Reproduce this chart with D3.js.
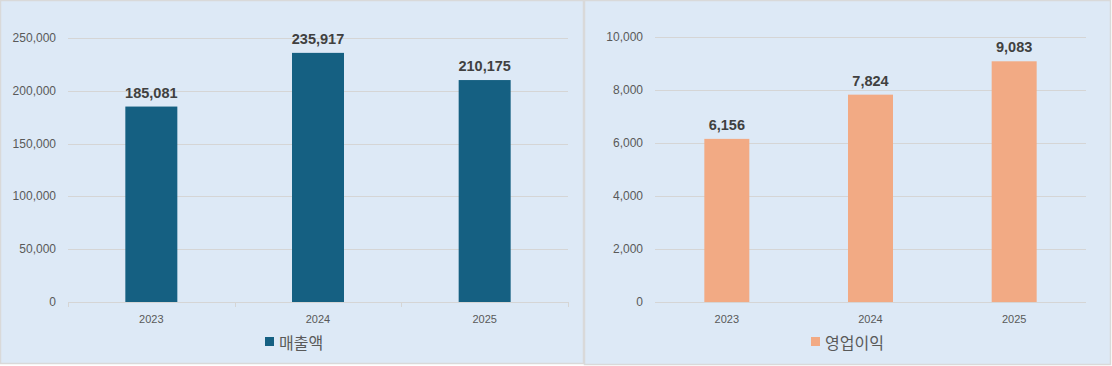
<!DOCTYPE html>
<html><head><meta charset="utf-8">
<script src="https://cdn.jsdelivr.net/npm/d3@7"></script>
<style>body{margin:0;background:#fff;}svg{display:block;}</style>
</head><body>
<svg id="c" width="1112" height="366"></svg>
<script>
const years = ["2023","2024","2025"];
const salesValues = [185081, 235917, 210175];
const profitValues = [6156, 7824, 9083];
const salesTicks = [0, 50000, 100000, 150000, 200000, 250000];
const profitTicks = [0, 2000, 4000, 6000, 8000, 10000];
const salesLegend = "매출액";
const profitLegend = "영업이익";

const svg = d3.select("#c");
const fmt = d3.format(",");

function panel(o){
  const g = svg.append("g");
  g.append("rect").attr("x",o.px+0.5).attr("y",0.5).attr("width",o.pw).attr("height",o.ph)
    .attr("fill","#dde9f6").attr("stroke","#d9d9d9").attr("stroke-width",1.5);
  const x = d3.scaleBand().domain(years).range([o.x0,o.x1]).paddingInner(0).paddingOuter(0);
  const y = d3.scaleLinear().domain([0,o.max]).range([o.yb,o.yt]);
  // gridlines
  g.selectAll(".grid").data(o.ticks).join("line")
    .attr("x1",o.x0).attr("x2",o.x1).attr("y1",d=>Math.round(y(d))+0.5).attr("y2",d=>Math.round(y(d))+0.5)
    .attr("stroke","#d5d5d5").attr("stroke-width",1);
  // y labels
  g.selectAll(".yl").data(o.ticks).join("text")
    .attr("x",o.x0-12).attr("y",d=>y(d)+4).attr("text-anchor","end")
    .attr("font-family","Liberation Sans, Arial, sans-serif").attr("font-size",12).attr("fill","#595959")
    .text(d=>fmt(d));
  // category ticks
  if(o.catTicks){
    const edges = years.map(d=>x(d)).concat([o.x1]);
    g.selectAll(".ct").data(edges).join("line")
      .attr("x1",d=>Math.round(d)+0.5).attr("x2",d=>Math.round(d)+0.5).attr("y1",o.yb).attr("y2",o.yb+5)
      .attr("stroke","#d5d5d5");
  }
  const bw = o.bw;
  g.selectAll(".bar").data(o.vals).join("rect")
    .attr("x",(d,i)=>x(years[i])+x.bandwidth()/2-bw/2).attr("width",bw)
    .attr("y",d=>y(d)).attr("height",d=>o.yb-y(d)).attr("fill",o.color);
  g.selectAll(".dl").data(o.vals).join("text")
    .attr("x",(d,i)=>x(years[i])+x.bandwidth()/2).attr("y",d=>y(d)-9).attr("text-anchor","middle")
    .attr("font-family","Liberation Sans, Arial, sans-serif").attr("font-weight","bold").attr("font-size",14.5)
    .attr("fill","#404040").text(d=>fmt(d));
  g.selectAll(".xl").data(years).join("text")
    .attr("x",d=>x(d)+x.bandwidth()/2).attr("y",o.yb+21).attr("text-anchor","middle")
    .attr("font-family","Liberation Sans, Arial, sans-serif").attr("font-size",11).attr("fill","#595959")
    .text(d=>d);
  const lg = g.append("g");
  lg.append("rect").attr("x",o.lx).attr("y",337).attr("width",9).attr("height",9).attr("fill",o.color);
  lg.append("text").attr("x",o.lx+14).attr("y",349).attr("font-family","Noto Sans CJK KR, sans-serif")
    .attr("font-size",16).attr("fill","#595959").text(o.legend);
}

panel({px:0,pw:583,ph:363,x0:68,x1:568,yb:302,yt:38,max:250000,ticks:salesTicks,vals:salesValues,
  color:"#156082",bw:52,lx:265,legend:salesLegend,catTicks:true});
panel({px:584,pw:526,ph:364,x0:655,x1:1086,yb:302,yt:37,max:10000,ticks:profitTicks,vals:profitValues,
  color:"#f2aa84",bw:45,lx:811,legend:profitLegend,catTicks:false});
</script>
</body></html>
